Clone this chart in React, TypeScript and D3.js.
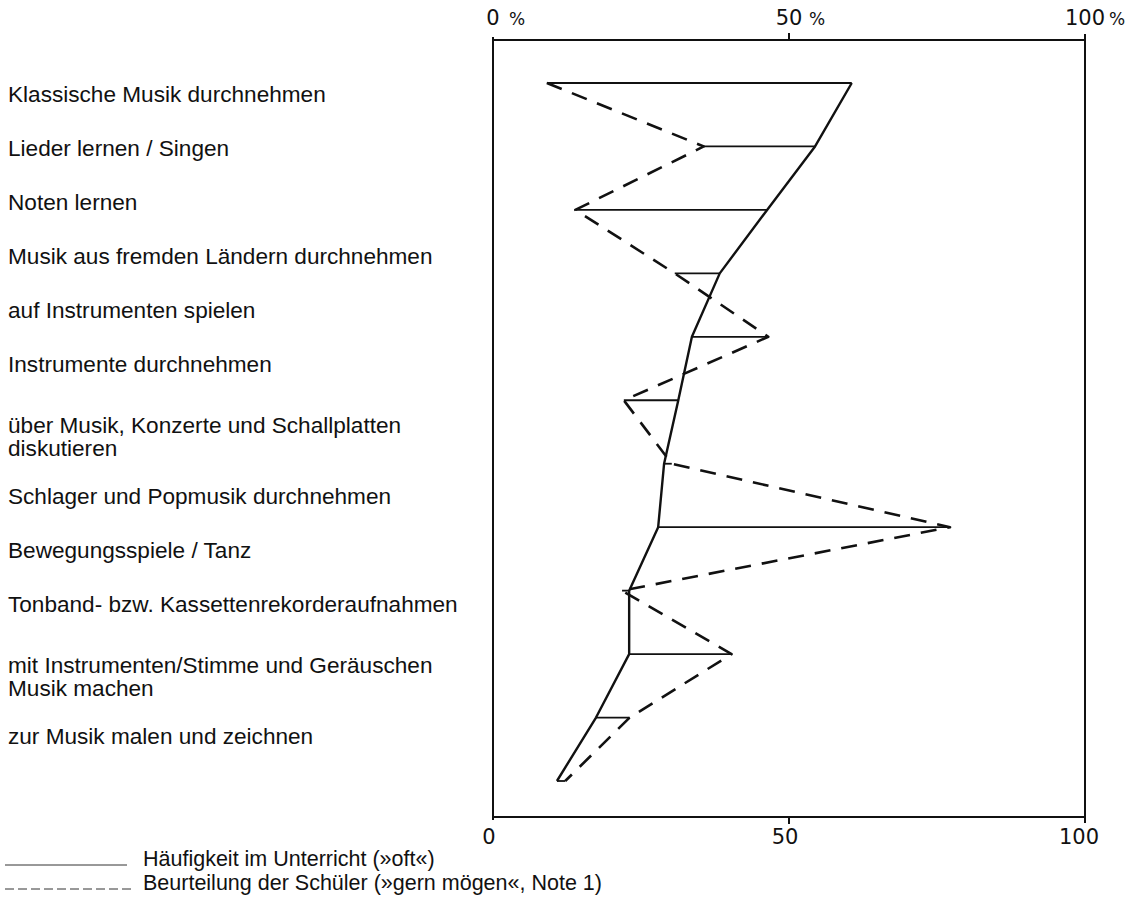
import React from 'react';
import * as d3 from 'd3';

const categories = [
  'Klassische Musik durchnehmen',
  'Lieder lernen / Singen',
  'Noten lernen',
  'Musik aus fremden Ländern durchnehmen',
  'auf Instrumenten spielen',
  'Instrumente durchnehmen',
  'über Musik, Konzerte und Schallplatten\ndiskutieren',
  'Schlager und Popmusik durchnehmen',
  'Bewegungsspiele / Tanz',
  'Tonband- bzw. Kassettenrekorderaufnahmen',
  'mit Instrumenten/Stimme und Geräuschen\nMusik machen',
  'zur Musik malen und zeichnen',
];

// Häufigkeit im Unterricht (»oft«), percent
const haeufigkeit = [60.6, 54.4, 46.3, 38.3, 33.6, 31.3, 28.9, 27.9, 23.0, 23.0, 17.4, 10.8];
// Beurteilung der Schüler (»gern mögen«, Note 1), percent
const beurteilung = [9.1, 35.6, 13.9, 30.7, 46.5, 22.1, 30.2, 77.2, 21.8, 40.3, 23.1, 12.2];

const topTicks = [0, 50, 100];
const bottomTicks = [0, 50, 100];
const legendLabels = [
  'Häufigkeit im Unterricht (»oft«)',
  'Beurteilung der Schüler (»gern mögen«, Note 1)',
];

export default function App() {
  const W = 1129;
  const H = 904;
  const left = 493;
  const right = 1085;
  const top = 40;
  const bottom = 817;
  const labelFont = '"Liberation Sans", Arial, Helvetica, sans-serif';
  const axisFont = '"DejaVu Sans", sans-serif';

  const x = d3.scaleLinear().domain([0, 100]).range([left, right]);
  const keys = categories.map((_, i) => String(i));
  const y = d3.scalePoint<string>().domain(keys).range([83, 781]);

  const lineGen = d3
    .line<number>()
    .x((d) => x(d))
    .y((_, i) => y(String(i)) as number);

  const labelLines = categories.map((c) => c.split('\n'));
  const labelY: number[] = [];
  let cur = 102;
  labelLines.forEach((ls, i) => {
    if (i > 0) {
      cur += 54 + (ls.length > 1 ? 7 : 0) + (labelLines[i - 1].length > 1 ? 17 : 0);
    }
    labelY.push(cur);
  });

  return (
    <svg
      width={W}
      height={H}
      style={{ position: 'absolute', left: 0, top: 0, background: '#fff' }}
    >
      <rect x={0} y={0} width={W} height={H} fill="#fff" />
      {/* frame */}
      <g stroke="#111" strokeWidth={2} fill="none">
        <line x1={x(0)} y1={top - 3} x2={x(0)} y2={bottom + 3} />
        <line x1={x(100)} y1={top - 6} x2={x(100)} y2={bottom + 6} />
        <line x1={x(0)} y1={top} x2={x(100)} y2={top} />
        <line x1={x(0)} y1={bottom} x2={x(100)} y2={bottom} />
        <line x1={x(50)} y1={top} x2={x(50)} y2={top - 7} />
        <line x1={x(50)} y1={bottom} x2={x(50)} y2={bottom + 7} />
      </g>
      {/* top axis labels */}
      <g fontFamily={axisFont} fontSize={21} fill="#111">
        {topTicks.map((t) => (
          <g key={t}>
            <text x={x(t)} y={25} textAnchor="middle">
              {t}
            </text>
            <text x={x(t) + 20 + 4 * String(t).length} y={25} textAnchor="middle" fontSize={17}>
              %
            </text>
          </g>
        ))}
      </g>
      {/* bottom axis labels */}
      <g fontFamily={axisFont} fontSize={21} fill="#111">
        {bottomTicks.map((t) => (
          <text key={t} x={x(t) - (t === 100 ? 6 : 4)} y={bottom + 27} textAnchor="middle">
            {t}
          </text>
        ))}
      </g>
      {/* connectors */}
      <g stroke="#111" strokeWidth={1.8}>
        {keys.map((k, i) => (
          <line
            key={k}
            x1={x(haeufigkeit[i])}
            x2={x(beurteilung[i])}
            y1={y(k) as number}
            y2={y(k) as number}
          />
        ))}
      </g>
      {/* solid series */}
      <path
        d={lineGen(haeufigkeit) || ''}
        fill="none"
        stroke="#111"
        strokeWidth={2.4}
        strokeLinejoin="round"
      />
      {/* dashed series */}
      <path
        d={lineGen(beurteilung) || ''}
        fill="none"
        stroke="#111"
        strokeWidth={2.6}
        strokeDasharray="16 11"
        strokeLinejoin="round"
      />
      {/* category labels */}
      <g fontFamily={labelFont} fontSize={22.6} fill="#111">
        {labelLines.map((ls, i) => (
          <text key={i} x={8} y={labelY[i]}>
            {ls.map((l, j) => (
              <tspan key={j} x={8} dy={j === 0 ? 0 : 23}>
                {l}
              </tspan>
            ))}
          </text>
        ))}
      </g>
      {/* legend */}
      <g fontFamily={labelFont} fontSize={21.5} fill="#111">
        <line x1={5} x2={127} y1={865} y2={865} stroke="#333" strokeWidth={1} />
        <text x={143} y={866}>{legendLabels[0]}</text>
        <line x1={5} x2={131} y1={889} y2={889} stroke="#333" strokeWidth={1} strokeDasharray="9 4" />
        <text x={143} y={890}>{legendLabels[1]}</text>
      </g>
    </svg>
  );
}
